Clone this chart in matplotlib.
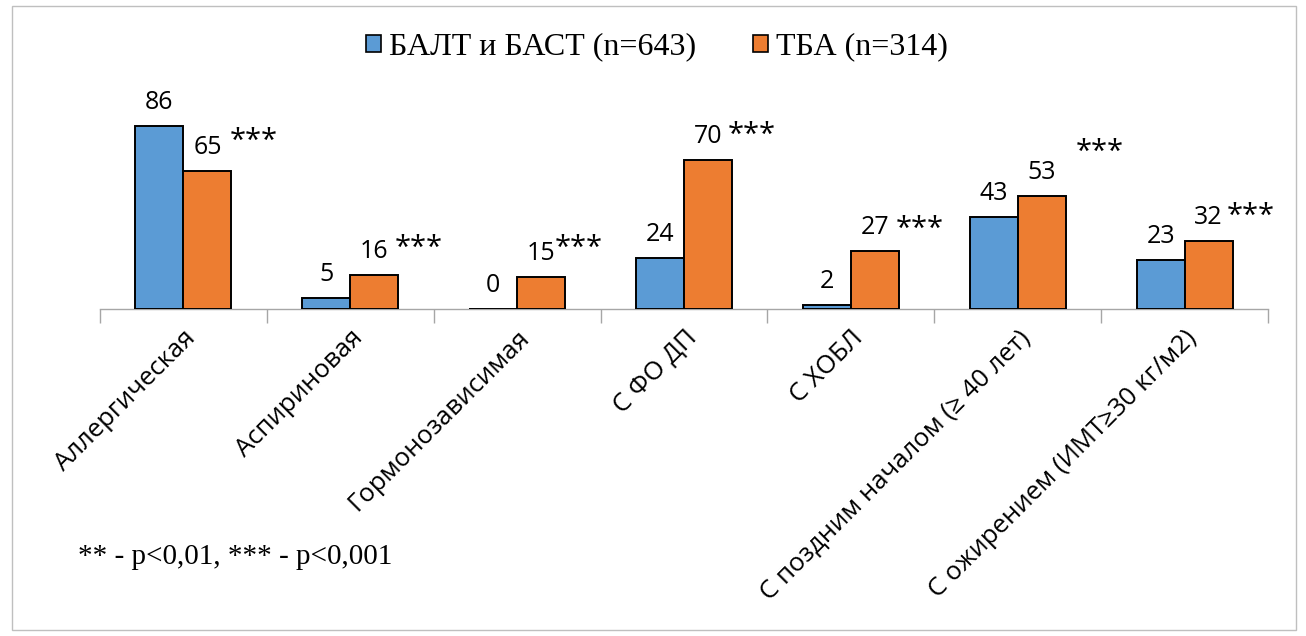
import matplotlib
matplotlib.use("Agg")
import matplotlib.pyplot as plt
from matplotlib.patches import Patch, Rectangle
import numpy as np

categories = [
    "Аллергическая",
    "Аспириновая",
    "Гормонозависимая",
    "С ФО ДП",
    "С ХОБЛ",
    "С поздним началом (≥ 40 лет)",
    "С ожирением (ИМТ≥30 кг/м2)",
]
balt_bast = [86, 5, 0, 24, 2, 43, 23]
tba = [65, 16, 15, 70, 27, 53, 32]
significance = ["***", "***", "***", "***", "***", "***", "***"]
series_names = ["БАЛТ и БАСТ (n=643)", "ТБА (n=314)"]
footnote = "** - p<0,01, *** - p<0,001"

BLUE = "#5B9BD5"
ORANGE = "#ED7D31"
SANS = ["Open Sans", "DejaVu Sans"]
SERIF = ["Liberation Serif", "DejaVu Serif"]

# star label offsets (pixels right of orange bar centre, pixels above bar top to baseline)
star_offsets = [(46, 22), (44, 19), (38, 21), (44, 17), (45, 15), (58, 36), (42, 17)]

DPI = 100
fig = plt.figure(figsize=(13.06, 6.36), dpi=DPI)
ax = fig.add_axes([100 / 1306, 1 - 309 / 636, 1168 / 1306, 213 / 636])

x = np.arange(len(categories))
w = 0.2875
ax.bar(x - w / 2, balt_bast, w, color=BLUE, edgecolor="black", linewidth=1.4, zorder=3)
ax.bar(x + w / 2, tba, w, color=ORANGE, edgecolor="black", linewidth=1.4, zorder=3)

ax.set_xlim(-0.5, len(categories) - 0.5)
ax.set_ylim(0, 100)

px = 72 / DPI  # points per pixel
for i in range(len(categories)):
    ax.annotate(str(balt_bast[i]), (x[i] - w / 2, balt_bast[i]), xytext=(0, 17 * px),
                textcoords="offset points", ha="center", va="baseline",
                fontsize=18, family=SANS)
    ax.annotate(str(tba[i]), (x[i] + w / 2, tba[i]), xytext=(0, 17 * px),
                textcoords="offset points", ha="center", va="baseline",
                fontsize=18, family=SANS)
    dx, dy = star_offsets[i]
    ax.annotate(significance[i], (x[i] + w / 2, tba[i]), xytext=(dx * px, dy * px),
                textcoords="offset points", ha="center", va="baseline",
                fontsize=21, family=SANS)

for s in ["top", "right", "left"]:
    ax.spines[s].set_visible(False)
ax.spines["bottom"].set_color("#a6a6a6")
ax.spines["bottom"].set_linewidth(1.0)
ax.set_yticks([])

ax.set_xticks(x)
ax.set_xticks(np.arange(-0.5, len(categories), 1.0), minor=True)
ax.tick_params(axis="x", which="major", length=0, pad=12)
ax.tick_params(axis="x", which="minor", length=10, color="#a6a6a6", width=1.0)
ax.set_xticklabels(categories, rotation=45, ha="right", rotation_mode="anchor",
                   fontsize=18.5, family=SANS)

handles = [Patch(facecolor=BLUE, edgecolor="black", linewidth=1.2),
           Patch(facecolor=ORANGE, edgecolor="black", linewidth=1.2)]
fig.legend(handles, series_names, loc="center", bbox_to_anchor=(0.503, 0.926),
           ncol=2, frameon=False, prop={"family": SERIF, "size": 23},
           handlelength=0.45, handleheight=0.45, handletextpad=0.25, columnspacing=1.8)

fig.text(78 / 1306, 1 - 557 / 636, footnote, ha="left", va="center",
         fontsize=21, family=SERIF)

fig.patches.append(Rectangle((12 / 1306, 6 / 636), 1284 / 1306, 624 / 636,
                             transform=fig.transFigure, fill=False,
                             edgecolor="#bfbfbf", linewidth=1.0))

fig.savefig("out.png", dpi=DPI)
